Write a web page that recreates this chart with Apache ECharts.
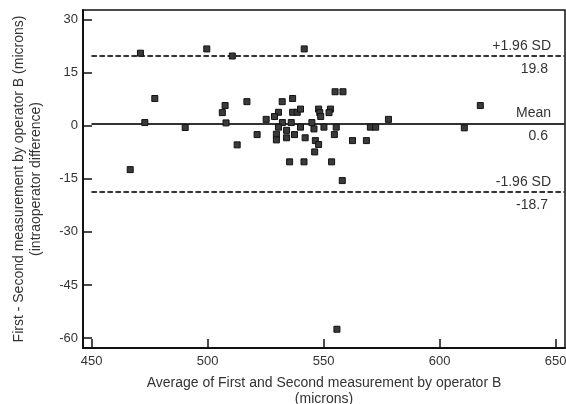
<!DOCTYPE html>
<html>
<head>
<meta charset="utf-8">
<script src="https://cdn.jsdelivr.net/npm/echarts@6/dist/echarts.min.js"></script>
<style>html,body{margin:0;padding:0;background:#fff;}#c{width:566px;height:404px;}</style>
</head>
<body>
<div id="c"></div>
<script>
// Average of measurements (microns)
var avgValues = [471.0, 499.6, 510.6, 541.6, 477.2, 472.9, 490.3, 466.6, 507.5, 506.3,
  516.9, 507.9, 525.2, 521.3, 512.7, 532.1, 536.6, 530.5, 528.8, 536.6,
  538.6, 540.0, 547.8, 548.3, 548.7, 532.2, 536.0, 530.5, 540.0, 544.9,
  545.8, 550.1, 534.0, 529.6, 537.4, 534.0, 529.6, 542.0, 546.4, 547.8,
  546.1, 535.3, 541.5, 554.9, 558.3, 552.9, 552.3, 555.4, 554.6, 562.4,
  568.4, 570.1, 572.4, 577.9, 553.4, 558.0, 617.5, 610.6, 555.7];
// Difference first - second (microns)
var diffValues = [20.5, 21.7, 19.7, 21.7, 7.7, 0.9, -0.5, -12.4, 5.7, 3.7,
  6.8, 0.8, 1.8, -2.5, -5.4, 6.8, 7.7, 3.8, 2.6, 3.8,
  3.8, 4.7, 4.7, 3.7, 2.6, 0.9, 0.9, -0.4, -0.4, 0.9,
  -0.9, -0.4, -1.3, -2.4, -2.5, -3.4, -4.0, -3.4, -4.2, -5.3,
  -7.4, -10.2, -10.2, 9.6, 9.6, 4.7, 3.7, -0.4, -2.5, -4.2,
  -4.2, -0.4, -0.4, 1.8, -10.2, -15.5, 5.7, -0.6, -57.5];
var xTicks = [450, 500, 550, 600, 650];
var yTicks = [-60, -45, -30, -15, 0, 15, 30];
var limitNames = ['+1.96 SD', 'Mean', '-1.96 SD'];
var limitValues = [19.8, 0.6, -18.7];
var limitLabels = ['19.8', '0.6', '-18.7'];

var xMin = 446.25, xMax = 654, yMin = -62.8, yMax = 32.7;
var pts = avgValues.map(function (v, i) { return [v, diffValues[i]]; });

var font = 'Liberation Sans, Arial, sans-serif';
var txt = '#333';

var mlData = [];
limitValues.forEach(function (v, i) {
  var ls = { color: '#333', width: 2, type: i === 1 ? 'solid' : [5, 3] };
  mlData.push([{ coord: [450, v], lineStyle: ls,
      label: { show: true, position: 'insideEndTop', formatter: limitNames[i], distance: 3, padding: [0, 11, 0, 0] } },
    { coord: [xMax, v] }]);
  mlData.push([{ coord: [450, v], lineStyle: ls,
      label: { show: true, position: 'insideEndBottom', formatter: limitLabels[i], distance: 6, padding: [0, 11, 0, 0] } },
    { coord: [xMax, v] }]);
});

var chart = echarts.init(document.getElementById('c'), null, { renderer: 'canvas' });
chart.setOption({
  animation: false,
  backgroundColor: '#fff',
  textStyle: { fontFamily: font },
  grid: { left: 83, right: 1, top: 10, bottom: 56, outerBoundsMode: 'none', containLabel: false,
    show: true, borderColor: '#111', borderWidth: 1.5, backgroundColor: 'transparent' },
  xAxis: {
    type: 'value', min: xMin, max: xMax,
    name: 'Average of First and Second measurement by operator B\n(microns)',
    nameLocation: 'middle', nameGap: 27,
    nameTextStyle: { fontFamily: font, fontSize: 14, color: txt, lineHeight: 16 },
    axisLine: { show: true, onZero: false, lineStyle: { color: '#111', width: 2 } },
    axisTick: { show: true, inside: true, length: 9, customValues: xTicks, lineStyle: { color: '#111', width: 1.5 } },
    axisLabel: { customValues: xTicks, fontFamily: font, fontSize: 13, color: txt, margin: 7 },
    splitLine: { show: false }
  },
  yAxis: {
    type: 'value', min: yMin, max: yMax,
    name: 'First - Second measurement by operator B (microns)\n(intraoperator difference)',
    nameLocation: 'middle', nameGap: 38, nameRotate: 90,
    nameTextStyle: { fontFamily: font, fontSize: 14, color: txt, lineHeight: 17 },
    axisLine: { show: true, onZero: false, lineStyle: { color: '#111', width: 2 } },
    axisTick: { show: true, inside: true, length: 9, customValues: yTicks, lineStyle: { color: '#111', width: 1.5 } },
    axisLabel: { customValues: yTicks, fontFamily: font, fontSize: 13, color: txt, margin: 5 },
    splitLine: { show: false }
  },
  series: [{
    type: 'scatter',
    data: pts,
    symbol: 'rect',
    symbolSize: 6,
    itemStyle: { color: '#3a3a3a', borderColor: '#111', borderWidth: 1, opacity: 1 },
    z: 5,
    markLine: {
      silent: true, symbol: ['none', 'none'], animation: false,
      label: { fontFamily: font, fontSize: 14, color: txt },
      data: mlData
    }
  }]
});
</script>
</body>
</html>
